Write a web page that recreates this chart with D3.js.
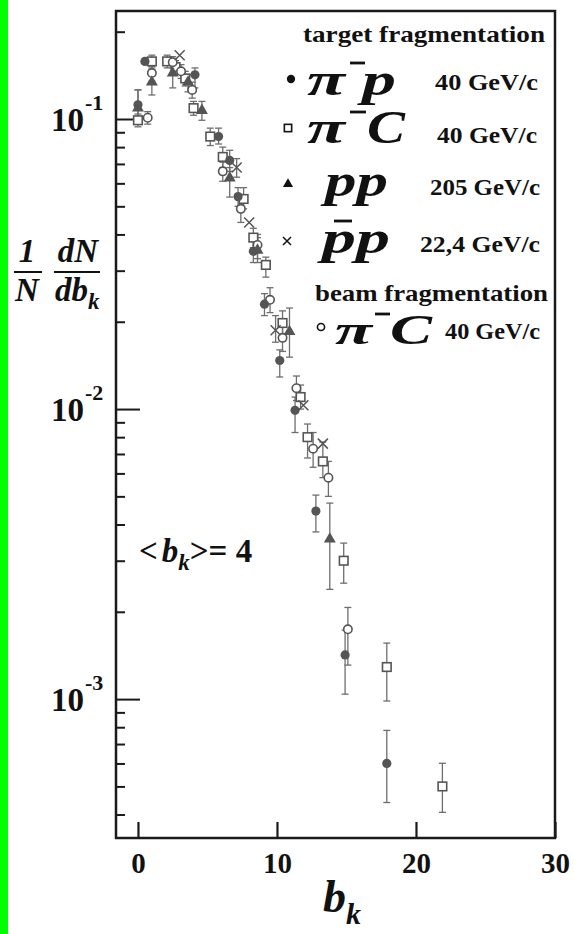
<!DOCTYPE html>
<html>
<head>
<meta charset="utf-8">
<script src="https://cdn.jsdelivr.net/npm/d3@7"></script>
<style>
  body { margin: 0; background: #fff; }
  text { font-family: "Liberation Serif", "DejaVu Serif", serif; font-weight: bold; fill: #111; }
</style>
</head>
<body>
<svg id="chart" width="575" height="934"></svg>
<script>
// pi- p, 40 GeV/c (target fragmentation) - filled circles
const bkPiP  = [0, 0.5, 4.1, 5.8, 6.6, 7.2, 8.3, 9.1, 10.2, 11.3, 12.8, 14.9, 17.9];
const valPiP = [0.112, 0.158, 0.142, 0.087, 0.072, 0.054, 0.035, 0.023, 0.0147, 0.0099, 0.00445, 0.00142, 0.0006];
const loPiP  = [0.100, null, 0.128, 0.082, 0.066, 0.050, 0.032, 0.021, 0.0129, 0.0083, 0.00377, 0.00104, 0.00044];
const hiPiP  = [0.126, null, 0.150, 0.093, 0.078, 0.058, 0.038, 0.025, 0.0160, 0.0110, 0.00505, 0.00173, 0.00078];

// pi- C, 40 GeV/c (target fragmentation) - open squares
const bkPiC  = [0, 1.0, 2.1, 2.7, 3.4, 4.0, 5.2, 6.1, 7.6, 8.3, 9.2, 10.4, 11.7, 12.2, 13.3, 14.8, 17.9, 21.9];
const valPiC = [0.099, 0.158, 0.158, 0.151, 0.138, 0.109, 0.087, 0.074, 0.053, 0.039, 0.0314, 0.0198, 0.011, 0.0080, 0.0066, 0.0030, 0.00129, 0.0005];
const loPiC  = [0.094, 0.150, 0.150, 0.143, 0.130, 0.103, 0.081, 0.068, 0.049, 0.036, 0.0285, 0.0180, 0.0100, 0.00678, 0.0058, 0.00251, 0.000985, 0.000407];
const hiPiC  = [0.104, 0.166, 0.166, 0.159, 0.146, 0.115, 0.093, 0.080, 0.058, 0.042, 0.0334, 0.0218, 0.0121, 0.00888, 0.0077, 0.00345, 0.00156, 0.000601];

// p p, 205 GeV/c - filled triangles
const bkPP  = [0, 1.0, 2.5, 3.6, 4.6, 6.6, 8.6, 10.9, 13.8];
const valPP = [0.109, 0.134, 0.144, 0.134, 0.107, 0.0626, 0.0353, 0.0185, 0.00356];
const loPP  = [0.099, 0.121, 0.128, 0.124, 0.099, 0.0538, 0.032, 0.0151, 0.00239];
const hiPP  = [0.126, 0.148, 0.154, 0.142, 0.115, 0.068, 0.039, 0.0223, 0.00474];

// anti-p p, 22.4 GeV/c - crosses
const bkPbP  = [3.0, 7.1, 8.0, 9.9, 11.9, 13.3];
const valPbP = [0.166, 0.068, 0.044, 0.0187, 0.0103, 0.0076];
const loPbP  = [null, 0.063, null, 0.017, null, null];
const hiPbP  = [null, 0.073, null, 0.021, null, null];

// pi- C, 40 GeV/c (beam fragmentation) - open circles
const bkBeam  = [0.7, 1.0, 2.5, 3.1, 3.9, 6.1, 7.4, 8.6, 9.5, 10.4, 11.4, 12.6, 13.7, 15.1];
const valBeam = [0.101, 0.144, 0.157, 0.146, 0.126, 0.066, 0.049, 0.0368, 0.0238, 0.0176, 0.0118, 0.0073, 0.0058, 0.00174];
const loBeam  = [0.096, 0.135, 0.150, 0.138, 0.118, 0.061, 0.044, 0.033, 0.0215, 0.0158, 0.0107, 0.0063, 0.0050, 0.00131];
const hiBeam  = [0.106, 0.152, 0.164, 0.154, 0.134, 0.071, 0.054, 0.040, 0.0262, 0.0195, 0.0130, 0.0083, 0.0066, 0.00207];

const xTicks = [0, 10, 20, 30];
const yMajor = [1e-1, 1e-2, 1e-3];
const yMajorExp = ["-1", "-2", "-3"];

const svg = d3.select("#chart");
const mLeft = 116, mRight = 555, mTop = 11, mBottom = 838;

const x = d3.scaleLinear().domain([-1.58, 30]).range([mLeft, mRight]);
const y = d3.scaleLog().domain([0.2357, 3.32e-4]).range([mTop, mBottom]);

// green strip on the left edge
svg.append("rect").attr("x", 0).attr("y", 0).attr("width", 8).attr("height", 934).attr("fill", "#00ff00");

// y ticks (inward)
const yMinor = [];
[1e-4, 1e-3, 1e-2, 1e-1].forEach(d => {
  for (let k = 2; k <= 9; k++) {
    const v = k * d;
    if (v < 0.2357 && v > 3.32e-4) yMinor.push(v);
  }
});

const tickStyle = g => {
  g.select(".domain").remove();
  g.selectAll("line").attr("stroke", "#1a1a1a").attr("stroke-width", 2);
};

svg.append("g")
  .attr("transform", `translate(${mLeft},0)`)
  .call(d3.axisRight(y).tickValues(yMinor).tickSize(9).tickFormat(""))
  .call(tickStyle);

svg.append("g")
  .attr("transform", `translate(${mLeft},0)`)
  .call(d3.axisRight(y).tickValues(yMajor).tickSize(24).tickFormat(""))
  .call(tickStyle);

// y tick labels: 10^-n
const yLab = svg.append("g").selectAll("text")
  .data(yMajor)
  .join("text")
  .attr("x", 51)
  .attr("y", d => y(d) + 12)
  .attr("font-size", 33);
yLab.append("tspan").text("10");
yLab.append("tspan")
  .attr("dy", -21)
  .attr("dx", 1)
  .attr("font-size", 22)
  .text((d, i) => yMajorExp[i]);

// x ticks (inward) and labels
svg.append("g")
  .attr("transform", `translate(0,${mBottom})`)
  .call(d3.axisBottom(x).tickValues(xTicks).tickSizeInner(-16).tickSizeOuter(0).tickPadding(14))
  .call(g => {
    g.select(".domain").remove();
    g.selectAll("line").attr("stroke", "#1a1a1a").attr("stroke-width", 2.2);
    g.selectAll("text")
      .attr("font-family", "Liberation Serif, serif")
      .attr("font-weight", "bold")
      .attr("font-size", 29)
      .attr("fill", "#111");
  });

// frame
svg.append("rect")
  .attr("x", mLeft).attr("y", mTop)
  .attr("width", mRight - mLeft).attr("height", mBottom - mTop)
  .attr("fill", "none").attr("stroke", "#1a1a1a").attr("stroke-width", 2.5);

// data
const series = [
  { bk: bkPiC, val: valPiC, lo: loPiC, hi: hiPiC, sym: "square" },
  { bk: bkBeam, val: valBeam, lo: loBeam, hi: hiBeam, sym: "ocircle" },
  { bk: bkPP, val: valPP, lo: loPP, hi: hiPP, sym: "triangle" },
  { bk: bkPiP, val: valPiP, lo: loPiP, hi: hiPiP, sym: "dot" },
  { bk: bkPbP, val: valPbP, lo: loPbP, hi: hiPbP, sym: "cross" }
];

const errG = svg.append("g").attr("stroke", "#6e6e6e").attr("stroke-width", 1.3);
const markG = svg.append("g");
const grey = "#555";

function drawMarker(g, sym, cx, cy, color, scale) {
  const s = scale || 1;
  if (sym === "dot") {
    g.append("circle").attr("cx", cx).attr("cy", cy).attr("r", 4.6 * s).attr("fill", color);
  } else if (sym === "ocircle") {
    g.append("circle").attr("cx", cx).attr("cy", cy).attr("r", 4.2 * s)
      .attr("fill", "#fff").attr("stroke", color).attr("stroke-width", 1.6);
  } else if (sym === "square") {
    g.append("rect").attr("x", cx - 4.3 * s).attr("y", cy - 4.3 * s)
      .attr("width", 8.6 * s).attr("height", 8.6 * s)
      .attr("fill", "#fff").attr("stroke", color).attr("stroke-width", 1.6);
  } else if (sym === "triangle") {
    g.append("path").attr("transform", `translate(${cx},${cy})`)
      .attr("d", d3.symbol(d3.symbolTriangle, 62 * s * s)).attr("fill", color);
  } else if (sym === "cross") {
    const r = 5 * s;
    g.append("path")
      .attr("d", `M${cx - r},${cy - r}L${cx + r},${cy + r}M${cx - r},${cy + r}L${cx + r},${cy - r}`)
      .attr("stroke", color).attr("stroke-width", 1.5).attr("fill", "none");
  }
}

series.forEach(s => {
  s.bk.forEach((b, i) => {
    if (s.lo[i] == null) return;
    const cx = x(b);
    errG.append("line").attr("x1", cx).attr("x2", cx).attr("y1", y(s.lo[i])).attr("y2", y(s.hi[i]));
    errG.append("line").attr("x1", cx - 3.5).attr("x2", cx + 3.5).attr("y1", y(s.lo[i])).attr("y2", y(s.lo[i]));
    errG.append("line").attr("x1", cx - 3.5).attr("x2", cx + 3.5).attr("y1", y(s.hi[i])).attr("y2", y(s.hi[i]));
  });
});

series.forEach(s => {
  s.bk.forEach((b, i) => drawMarker(markG, s.sym, x(b), y(s.val[i]), grey));
});

// legend
const leg = svg.append("g");
function legText(str, x0, base, size, len, italic) {
  return leg.append("text")
    .attr("x", x0).attr("y", base)
    .attr("font-size", size)
    .attr("font-style", italic ? "italic" : "normal")
    .attr("textLength", len)
    .attr("lengthAdjust", "spacingAndGlyphs")
    .text(str);
}
function bar(x1, x2, yy) {
  leg.append("line").attr("x1", x1).attr("x2", x2).attr("y1", yy).attr("y2", yy)
    .attr("stroke", "#111").attr("stroke-width", 2.8);
}

const big = 46;
legText("target fragmentation", 303, 42, 24, 242, false);

// row 1: pi- p
drawMarker(leg, "dot", 291, 79, "#111", 0.9);
legText("π", 307, 95, big, 38, true);
bar(350, 365, 63);
legText("p", 362, 95, big, 34, true);
legText("40 GeV/c", 435, 90, 24, 103, false);

// row 2: pi- C
drawMarker(leg, "square", 288, 128, "#111", 0.85);
legText("π", 307, 143, big, 38, true);
bar(350, 366, 112);
legText("C", 367, 143, big, 38, true);
legText("40 GeV/c", 437, 143, 24, 100, false);

// row 3: p p
drawMarker(leg, "triangle", 288, 184, "#111", 0.85);
legText("pp", 325, 196, big, 63, true);
legText("205 GeV/c", 430, 195, 24, 110, false);

// row 4: anti-p p
drawMarker(leg, "cross", 287, 241, "#111", 0.8);
legText("pp", 322, 253, big, 68, true);
bar(334, 352, 221);
legText("22,4 GeV/c", 420, 252, 24, 120, false);

legText("beam fragmentation", 315, 301, 24, 233, false);

// row 5: pi- C beam
drawMarker(leg, "ocircle", 321, 327, "#111", 0.85);
legText("π", 335, 344, 42, 37, true);
bar(375, 390, 314);
legText("C", 390, 344, 42, 42, true);
legText("40 GeV/c", 445, 339, 24, 95, false);

// y axis label: 1/N dN/db_k
const yl = svg.append("g");
yl.append("text").attr("x", 27).attr("y", 262).attr("text-anchor", "middle").attr("font-size", 33).attr("font-style", "italic").text("1");
yl.append("text").attr("x", 27).attr("y", 301).attr("text-anchor", "middle").attr("font-size", 33).attr("font-style", "italic").text("N");
yl.append("line").attr("x1", 14).attr("x2", 42).attr("y1", 272).attr("y2", 272).attr("stroke", "#111").attr("stroke-width", 2);
yl.append("text").attr("x", 78).attr("y", 262).attr("text-anchor", "middle").attr("font-size", 33).attr("font-style", "italic").text("dN");
const dbk = yl.append("text").attr("x", 55).attr("y", 301).attr("font-size", 33).attr("font-style", "italic");
dbk.append("tspan").text("db");
dbk.append("tspan").attr("dy", 8).attr("font-size", 23).text("k");
yl.append("line").attr("x1", 54).attr("x2", 100).attr("y1", 272).attr("y2", 272).attr("stroke", "#111").attr("stroke-width", 2);

// mean annotation
const mean = svg.append("text").attr("x", 139).attr("y", 562).attr("font-size", 33);
mean.append("tspan").text("<");
mean.append("tspan").attr("dx", 4).attr("font-style", "italic").text("b");
mean.append("tspan").attr("dy", 8).attr("font-size", 23).attr("font-style", "italic").text("k");
mean.append("tspan").attr("dy", -8).text(">= 4");

// x axis title
const xt = svg.append("text").attr("x", 323).attr("y", 912).attr("font-size", 46).attr("font-style", "italic");
xt.append("tspan").text("b");
xt.append("tspan").attr("dy", 12).attr("font-size", 30).text("k");
</script>
</body>
</html>
